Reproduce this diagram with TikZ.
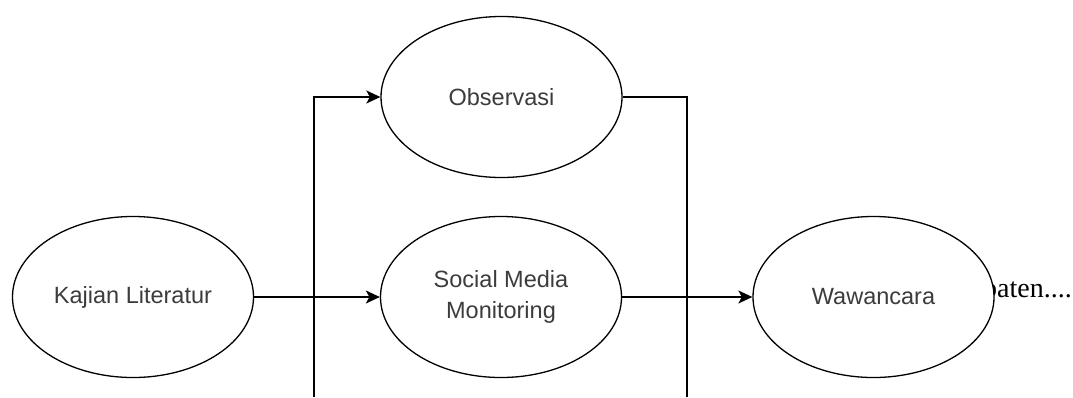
\documentclass[tikz,border=0pt]{standalone}
\usepackage{fontspec}
\setmainfont{Liberation Serif}
\newfontfamily\labelfont{Liberation Sans}
\usetikzlibrary{shapes.geometric,arrows.meta}

\definecolor{labelgray}{RGB}{60,60,60}

\tikzset{
  oval/.style={ellipse, draw=black, fill=white, line width=1.3pt,
    minimum width=241pt, minimum height=161pt, inner sep=0pt,
    align=center, text=labelgray,
    font=\labelfont\fontsize{23.5}{31}\selectfont},
  link/.style={draw=black, line width=1.4pt},
  arr/.style={link, -{Stealth[length=14pt,width=13pt,inset=3.5pt]}},
}

\begin{document}
\begin{tikzpicture}[x=1pt,y=-1pt]
  \useasboundingbox (0,0) rectangle (1073,397);

  % trailing caption text, partly hidden behind the last oval
  \node[anchor=base west, inner sep=0pt,
        font=\fontsize{28}{33}\selectfont] (tail) at (983,297) {paten....};

  \node[oval] (kaj) at (133,297) {Kajian Literatur};
  \node[oval] (obs) at (501.5,97) {Observasi};
  \node[oval] (smm) at (501,297) {Social Media\\Monitoring};
  \node[oval] (waw) at (873.5,297) {Wawancara};

  \coordinate (lb) at (314,397);
  \coordinate (rb) at (687,397);

  \draw[arr] (kaj) -- (smm);
  \draw[arr] (lb) |- (obs);
  \draw[link] (obs) -| (rb);
  \draw[arr] (smm) -- (waw);
\end{tikzpicture}
\end{document}
